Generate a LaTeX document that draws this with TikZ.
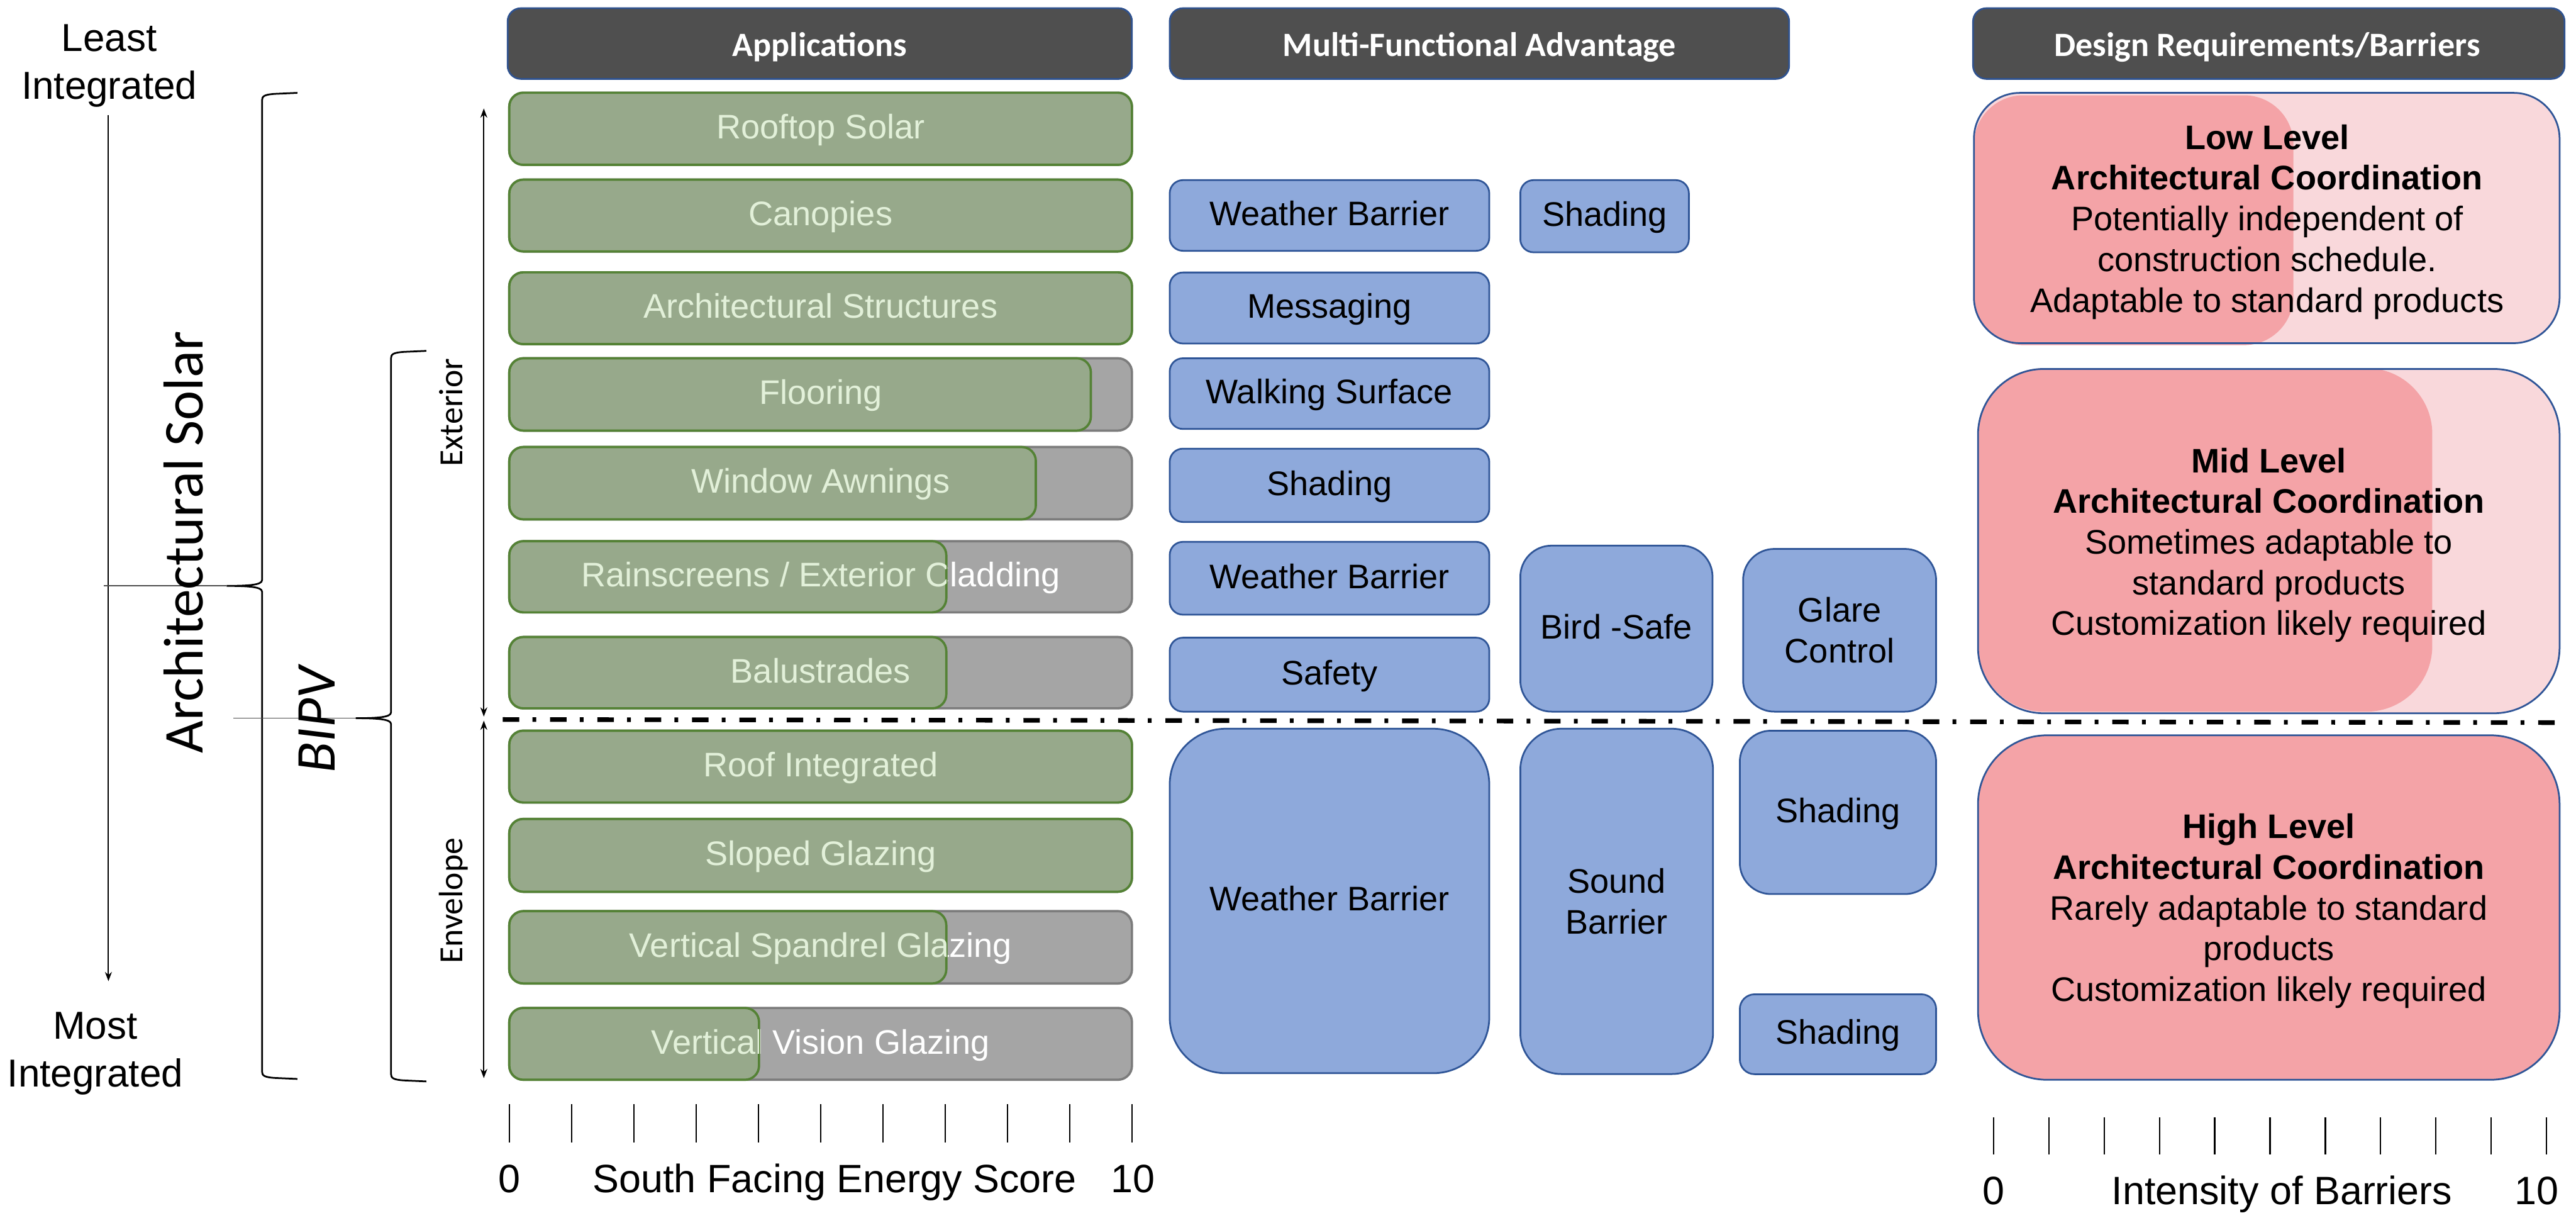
\documentclass[tikz,border=0pt]{standalone}
\usepackage{fontspec}
\setmainfont{Liberation Sans}
\newfontfamily\calibri{Carlito}
\usetikzlibrary{arrows.meta}

\definecolor{hdrgray}{RGB}{79,79,79}
\definecolor{hdrline}{RGB}{47,82,143}
\definecolor{appfill}{RGB}{151,169,139}
\definecolor{appline}{RGB}{84,130,53}
\definecolor{apptxt}{RGB}{226,240,217}
\definecolor{restfill}{RGB}{165,165,165}
\definecolor{restline}{RGB}{124,124,124}
\definecolor{advfill}{RGB}{142,169,219}
\definecolor{advline}{RGB}{47,85,151}
\definecolor{reqlight}{RGB}{249,216,219}
\definecolor{reqdark}{RGB}{244,163,167}

\begin{document}
\begin{tikzpicture}[
    x=0.02cm, y=-0.02cm,
    >={Stealth[length=3.2pt,width=2.4pt]},
    header/.style={fill=hdrgray, draw=hdrline, line width=0.6pt, rounded corners=0.16cm},
    hdrtext/.style={text=white, font=\calibri\bfseries\fontsize{11.8}{14}\selectfont, inner sep=0pt, anchor=base},
    restbar/.style={fill=restfill, draw=restline, line width=0.8pt, rounded corners=0.17cm},
    scorebar/.style={fill=appfill, draw=appline, line width=0.8pt, rounded corners=0.17cm},
    apptext/.style={font=\fontsize{11.8}{14}\selectfont, inner sep=0pt, text height=0.905em, text depth=0.212em},
    advbox/.style={fill=advfill, draw=advline, line width=0.6pt},
    advone/.style={font=\fontsize{11.8}{14.2}\selectfont, inner sep=0pt, text height=0.905em, text depth=0.212em},
    advtwo/.style={font=\fontsize{11.8}{14.2}\selectfont, align=center, inner sep=0pt},
    reqtext/.style={font=\fontsize{11.8}{14.1}\selectfont, align=center, inner sep=0pt},
    sidetext/.style={font=\calibri\fontsize{11.7}{14}\selectfont, inner sep=0pt},
    endtext/.style={font=\fontsize{13.5}{16.5}\selectfont, align=center, inner sep=0pt},
    axislabel/.style={font=\fontsize{13.7}{16}\selectfont, inner sep=0pt, anchor=base},
    curly/.style={line width=0.6pt},
    leader/.style={line width=0.35pt, black!70},
    scaletick/.style={line width=0.5pt},
]

\useasboundingbox (0,0) rectangle (1568,741);

% === Integration scale (left) ===
\node[endtext] (least) at (66.5,40) {Least\\Integrated};
\node[endtext] (most) at (58,641) {Most\\Integrated};
\draw[->, line width=0.4pt] (66,70) -- (66,597);

% Braces: Architectural Solar, BIPV
\foreach \xv/\yt/\ym/\yb in {159.5/56.5/356.5/656.5, 238/213.5/437/658} {
    \draw[curly] ({\xv+21.5},\yt) -- ({\xv+8},{\yt+0.6})
        .. controls ({\xv+1.5},{\yt+1}) and (\xv,{\yt+2}) .. (\xv,{\yt+4.5})
        -- (\xv,{\ym-3.5})
        .. controls (\xv,{\ym-0.6}) and ({\xv-8},\ym) .. ({\xv-21.5},\ym)
        .. controls ({\xv-8},\ym) and (\xv,{\ym+0.6}) .. (\xv,{\ym+3.5})
        -- (\xv,{\yb-4.5})
        .. controls (\xv,{\yb-2}) and ({\xv+1.5},{\yb-1}) .. ({\xv+8},{\yb-0.6})
        -- ({\xv+21.5},\yb);
}
\draw[leader] (63,356.5) -- (138,356.5);
\draw[leader] (142,437) -- (216.5,437);

\node[font=\calibri\fontsize{19.5}{22}\selectfont, rotate=90, inner sep=0pt] (archsolar) at (111.5,330) {Architectural Solar};
\node[font=\calibri\itshape\fontsize{19.5}{22}\selectfont, rotate=90, inner sep=0pt] (bipv) at (193,438) {BIPV};

% Exterior / Envelope
\node[sidetext, rotate=90] (exterior) at (274.5,251) {Exterior};
\node[sidetext, rotate=90] (envelope) at (276,548) {Envelope};
\draw[<->, line width=0.4pt] (294.5,66) -- (294.5,436);
\draw[<->, line width=0.4pt] (294.5,438.5) -- (294.5,656);

% === Column headers ===
\draw[header] (309,5) rectangle (689,48);
\node[hdrtext] (hdrapp) at (499,34.2) {Applications};
\draw[header] (712,5) rectangle (1089,48);
\node[hdrtext] (hdradv) at (900.5,34.2) {Multi-Functional Advantage};
\draw[header] (1201,5) rectangle (1561,48);
\node[hdrtext] (hdrreq) at (1380,34.2) {Design Requirements/Barriers};

% === Applications (green = south facing energy score) ===
\foreach \i/\yt/\yb/\xg/\lbl in {
    1/56.4/100.3/689/Rooftop Solar,
    2/109.3/153/689/Canopies,
    3/165.7/209.4/689/Architectural Structures,
    4/218/262/664/Flooring,
    5/272/316/630.5/Window Awnings,
    6/329.3/372.6/576/{Rainscreens / Exterior Cladding},
    7/387.6/431/576/Balustrades,
    8/444.6/488.3/689/Roof Integrated,
    9/498.3/542.6/689/Sloped Glazing,
    10/554.4/598.4/576/Vertical Spandrel Glazing,
    11/613.3/657/462/Vertical Vision Glazing} {
    \draw[restbar] (310,\yt) rectangle (689,\yb);
    \node[apptext, text=white] at (499.5,{(\yt+\yb)/2}) {\lbl};
    \draw[scorebar] (310,\yt) rectangle (\xg,\yb);
    \begin{scope}
        \clip[rounded corners=0.17cm] (310,\yt) rectangle (\xg,\yb);
        \node[apptext, text=apptxt] (app\i) at (499.5,{(\yt+\yb)/2}) {\lbl};
    \end{scope}
}

% === Multi-functional advantage ===
\foreach \nm/\xa/\ya/\xb/\yb/\rr/\st/\lbl in {
    wbA/712/109.6/906.5/152.6/0.16/advone/Weather Barrier,
    shA/925.4/109.6/1028/153.5/0.16/advone/Shading,
    msg/712/165.8/906.5/209/0.16/advone/Messaging,
    walk/712/218/906.5/261/0.16/advone/Walking Surface,
    shB/712/273/906.5/317.6/0.16/advone/Shading,
    wbB/712/329.7/906.5/374/0.16/advone/Weather Barrier,
    safe/712/388/906.5/433/0.16/advone/Safety,
    bird/925.4/332/1042.4/433/0.38/advone/Bird -Safe,
    glare/1061/334/1178.5/433/0.38/advtwo/Glare\\Control,
    wbC/712/443.4/906.5/653/0.68/advone/Weather Barrier,
    sound/925.4/443.4/1042.7/653.5/0.5/advtwo/Sound\\Barrier,
    shC/1059/444.6/1178.5/544/0.38/advone/Shading,
    shD/1059/605/1178.5/653.6/0.18/advone/Shading} {
    \draw[advbox, rounded corners=\rr cm] (\xa,\ya) rectangle (\xb,\yb);
    \node[\st] (\nm) at ({(\xa+\xb)/2},{(\ya+\yb)/2}) {\lbl};
}

% === Design requirements / barriers ===
% Low
\fill[reqlight, rounded corners=0.56cm] (1201.5,56.5) rectangle (1558,208.8);
\fill[reqdark, rounded corners=0.6cm] (1201.5,58) rectangle (1396,210);
\draw[advline, line width=0.6pt, rounded corners=0.56cm] (1201.5,56.5) rectangle (1558,208.8);
\node[reqtext] (low) at (1380,135) {\textbf{Low Level}\\\textbf{Architectural Coordination}\\Potentially independent of\\construction schedule.\\Adaptable to standard products};
% Mid
\fill[reqlight, rounded corners=0.8cm] (1204,224.5) rectangle (1558,434);
\fill[reqdark, rounded corners=0.8cm] (1204,224) rectangle (1480.5,433);
\draw[advline, line width=0.6pt, rounded corners=0.8cm] (1204,224.5) rectangle (1558,434);
\node[reqtext] (mid) at (1381,331.7) {\textbf{Mid Level}\\\textbf{Architectural Coordination}\\Sometimes adaptable to\\standard products\\Customization likely required};
% High
\draw[fill=reqdark, draw=advline, line width=0.6pt, rounded corners=0.84cm] (1204,447.4) rectangle (1558,657);
\node[reqtext] (high) at (1381,554.3) {\textbf{High Level}\\\textbf{Architectural Coordination}\\Rarely adaptable to standard\\products\\Customization likely required};

% === Exterior / envelope divide ===
\draw[line width=1.6pt, dash pattern=on 5.7pt off 4.6pt on 1.3pt off 4.8pt] (306,437.8) -- (1560,439.7);

% === Scales ===
\foreach \k in {0,...,10}
    \draw[scaletick] ({310+37.9*\k},672) -- ({310+37.9*\k},695);
\node[axislabel] (sfzero) at (310,725.5) {0};
\node[axislabel] (sfname) at (508,725.5) {South Facing Energy Score};
\node[axislabel] (sften) at (689.5,725.5) {10};

\foreach \k in {0,...,10}
    \draw[scaletick] ({1213.5+33.65*\k},680) -- ({1213.5+33.65*\k},702.6);
\node[axislabel] (ibzero) at (1213.5,733) {0};
\node[axislabel] (ibname) at (1389,733) {Intensity of Barriers};
\node[axislabel] (ibten) at (1544,733) {10};

\end{tikzpicture}
\end{document}
